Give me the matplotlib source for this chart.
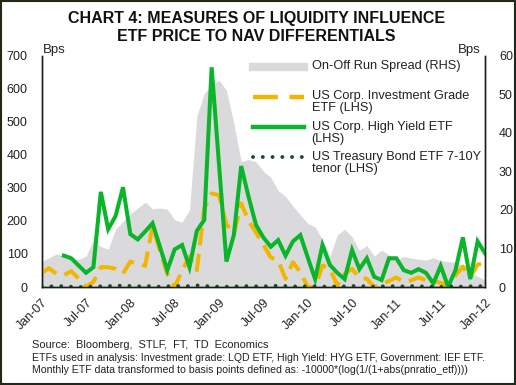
import matplotlib.pyplot as plt
from matplotlib.lines import Line2D
from matplotlib.patches import Rectangle
import numpy as np

plt.rcParams["font.family"] = ["Liberation Sans", "DejaVu Sans"]

# monthly, Jan-07 .. Jan-12
months = np.arange(61)
tick_pos = list(range(0, 61, 6))
tick_labels = ["Jan-07", "Jul-07", "Jan-08", "Jul-08", "Jan-09", "Jul-09",
               "Jan-10", "Jul-10", "Jan-11", "Jul-11", "Jan-12"]

# On-off run spread (RHS, bps)
spread = [6.6, 7.6, 8.6, 8.0, 7.0, 7.2, 8.0, 12.2, 10.5, 9.8, 15.0, 17.0, 19.0, 20.5, 22.0,
          20.3, 20.5, 20.2, 17.4, 16.8, 20.0, 44.4, 50.2, 52.4, 53.7, 51.0, 42.5, 32.5, 33.1,
          32.5, 30.0, 28.5, 25.0, 23.5, 21.0, 18.7, 16.5, 15.6, 12.2, 7.9, 13.5, 15.0, 13.0,
          9.5, 10.8, 8.0, 9.6, 8.3, 7.0, 7.9, 7.5, 7.2, 7.0, 7.6, 6.8, 6.6, 6.4, 5.5, 3.5,
          2.8, 1.8]

# US Corp. investment grade ETF (LHS)
inv_grade = [43, 57, 40, 36, 48, 25, 0, 16, 60, 60, 55, 41, 77, 70, 64, 185, 110, 40, 0, 50,
             92, 51, 238, 283, 278, 190, 160, 253, 200, 165, 128, 90, 80, 25, 75, 45, 0, 0, 65,
             55, 5, 40, 55, 28, 25, 0, 8, 18, 29, 15, 20, 29, 20, 20, 12, 5, 35, 62, 30, 68, 73]

# US Corp. high yield ETF (LHS), starts Apr-07
high_yield = [None, None, None, 95, 87, 65, 43, 60, 288, 175, 215, 302, 160, 144, 168, 193,
              122, 51, 114, 127, 60, 170, 203, 665, 370, 77, 157, 366, 273, 188, 150, 122,
              142, 95, 138, 157, 90, 24, 127, 67, 43, 24, 112, 54, 87, 31, 21, 87, 87, 51, 43,
              54, 43, 11, 64, 1, 51, 150, 24, 138, 102]

# US Treasury bond ETF 7-10Y (LHS)
treasury = [3, 2, 2, 3, 1, 0, 0, 2, 2, 3, 3, 5, 3, 2, 3, 2, 1, 2, 4, 2, 3, 5, 3, 2, 1, 1, 2,
            2, 3, 2, 2, 3, 4, 3, 2, 1, 3, 2, 1, 2, 1, 2, 3, 3, 2, 1, 2, 3, 2, 2, 3, 2, 2, 1, 0,
            2, 2, 1, 2, 2, 3]

GRAY = "#dadadc"
YELLOW = "#f2b600"
GREEN = "#0bb52b"
DARK = "#1d4a2d"
TXT = "#222222"

fig = plt.figure(figsize=(5.16, 3.85), dpi=100)
ax = fig.add_axes([0.0808, 0.2545, 0.8592, 0.6008])
ax2 = ax.twinx()

ax2.fill_between(months, spread, 0, color=GRAY, lw=0)
ax2.set_ylim(0, 60)
ax2.set_yticks(range(0, 61, 10))

hy = np.array([np.nan if v is None else v for v in high_yield], dtype=float)
ax.plot(months, inv_grade, color=YELLOW, lw=2.9, linestyle=(0, (4.4, 2.1)))
ax.plot(months, hy, color=GREEN, lw=2.9, solid_joinstyle="miter")
ax.plot(months, treasury, color=DARK, lw=2.8, linestyle=(0, (0.01, 2.5)),
        dash_capstyle="round")

ax.set_zorder(ax2.get_zorder() + 1)
ax.patch.set_visible(False)

ax.set_xlim(0, 60)
ax.set_ylim(0, 700)
ax.set_yticks(range(0, 701, 100))
ax.set_xticks(tick_pos)
ax.set_xticklabels(tick_labels, rotation=45, ha="right", va="top", rotation_mode="anchor")

for a in (ax, ax2):
    a.spines["top"].set_visible(False)
    for s in ("left", "right", "bottom"):
        a.spines[s].set_color("#1a1f14")
        a.spines[s].set_linewidth(1.0)
    a.tick_params(length=0, labelsize=9, colors=TXT)
ax.tick_params(axis="y", pad=10)
ax2.tick_params(axis="y", pad=10)
ax.tick_params(axis="x", pad=7)

fig.text(0.083, 0.869, "Bps", fontsize=9.5, color=TXT, va="center")
fig.text(0.932, 0.869, "Bps", fontsize=9.5, color=TXT, va="center", ha="right")

fig.text(0.497, 0.953, "CHART 4: MEASURES OF LIQUIDITY INFLUENCE",
         fontsize=11.5, fontweight="bold", ha="center", va="center", color="#111111")
fig.text(0.497, 0.905, "ETF PRICE TO NAV DIFFERENTIALS",
         fontsize=11.5, fontweight="bold", ha="center", va="center", color="#111111")


# legend drawn by hand so the keys sit on the first text line
def fy(y):
    return 1 - y / 385


def fx(x):
    return x / 516


keys = [
    (66.7, dict(color=GRAY, lw=6), "On-Off Run Spread (RHS)"),
    (96.7, dict(color=YELLOW, lw=3.2, linestyle=(0, (5.6, 2.6))), "US Corp. Investment Grade\nETF (LHS)"),
    (127.3, dict(color=GREEN, lw=3.2), "US Corp. High Yield ETF\n(LHS)"),
    (157.3, dict(color=DARK, lw=2.8, linestyle=(0, (0.01, 2.5)), dash_capstyle="round"),
     "US Treasury Bond ETF 7-10Y\ntenor (LHS)"),
]
for y, style, label in keys:
    fig.add_artist(Line2D([fx(253), fx(304)], [fy(y), fy(y)], transform=fig.transFigure, **style))
    fig.text(fx(311.5), fy(y) + 0.0175, label, fontsize=9.2, va="top", ha="left",
             color=TXT, linespacing=1.05)

fig.text(fx(32), fy(344.5), "Source:  Bloomberg,  STLF,  FT,  TD  Economics",
         fontsize=7.9, va="center", color=TXT)
fig.text(fx(32), fy(357.7), "ETFs used in analysis: Investment grade: LQD ETF, High Yield: HYG ETF, "
         "Government: IEF ETF.", fontsize=7.55, va="center", color=TXT)
fig.text(fx(32), fy(370), "Monthly ETF data transformed to basis points defined as: "
         "-10000*(log(1/(1+abs(pnratio_etf))))", fontsize=7.55, va="center", color=TXT)

fig.add_artist(Rectangle((0.0015, 0.002), 0.997, 0.996, transform=fig.transFigure,
                         fill=False, edgecolor="#1e2a16", lw=1.5))

fig.savefig("out.png", dpi=100)
